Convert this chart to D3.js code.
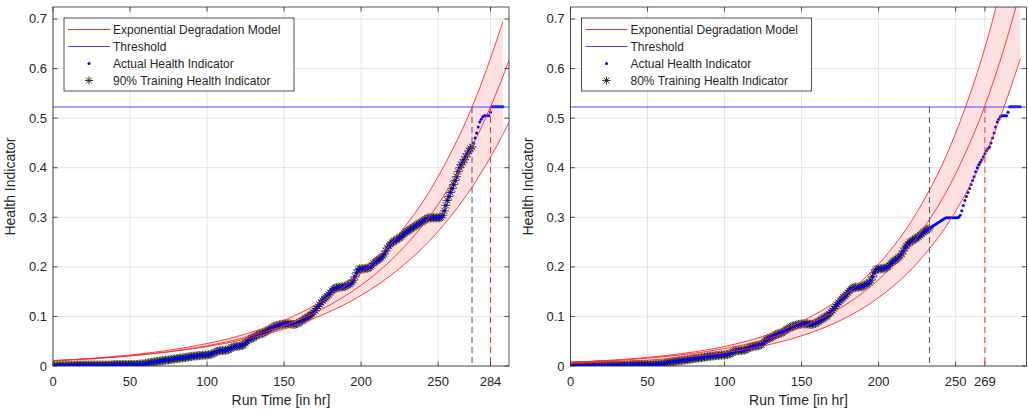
<!DOCTYPE html>
<html><head><meta charset="utf-8">
<script src="https://cdn.jsdelivr.net/npm/d3@7"></script>
<style>
body{margin:0;background:#fff}
svg{display:block}
text{font-family:"Liberation Sans",Arial,Helvetica,sans-serif;fill:#262626}
</style>
</head><body>
<svg id="c" width="1028" height="414"></svg>
<script>
// ---------------- data ----------------
const runTime = d3.range(0, 293); // one sample per hour
const healthIndicator = [
0.000,0.000,0.001,0.001,0.001,0.001,0.001,0.001,0.001,0.001,
0.001,0.001,0.001,0.001,0.001,0.002,0.002,0.002,0.002,0.002,
0.002,0.002,0.002,0.002,0.002,0.002,0.002,0.002,0.002,0.002,
0.002,0.002,0.002,0.002,0.002,0.002,0.002,0.002,0.002,0.003,
0.003,0.003,0.003,0.003,0.003,0.003,0.003,0.003,0.003,0.003,
0.003,0.003,0.003,0.003,0.003,0.003,0.004,0.004,0.004,0.004,
0.005,0.005,0.006,0.007,0.007,0.008,0.008,0.009,0.009,0.010,
0.010,0.011,0.011,0.012,0.012,0.012,0.013,0.013,0.014,0.014,
0.015,0.015,0.016,0.016,0.016,0.017,0.017,0.018,0.018,0.019,
0.019,0.020,0.020,0.020,0.021,0.021,0.021,0.022,0.022,0.022,
0.022,0.023,0.023,0.024,0.025,0.027,0.029,0.030,0.031,0.031,
0.031,0.031,0.032,0.032,0.033,0.035,0.037,0.038,0.039,0.040,
0.040,0.040,0.041,0.042,0.043,0.046,0.050,0.053,0.055,0.056,
0.057,0.059,0.061,0.063,0.064,0.065,0.066,0.067,0.069,0.071,
0.073,0.075,0.077,0.079,0.080,0.081,0.082,0.083,0.084,0.084,
0.085,0.085,0.085,0.085,0.085,0.084,0.084,0.084,0.085,0.086,
0.088,0.090,0.092,0.094,0.096,0.098,0.100,0.102,0.105,0.108,
0.112,0.116,0.120,0.124,0.128,0.132,0.135,0.138,0.141,0.144,
0.148,0.152,0.155,0.157,0.158,0.159,0.159,0.159,0.160,0.160,
0.161,0.163,0.165,0.166,0.169,0.173,0.180,0.188,0.194,0.196,
0.196,0.196,0.196,0.197,0.197,0.198,0.200,0.203,0.207,0.210,
0.212,0.214,0.216,0.219,0.222,0.226,0.232,0.238,0.242,0.246,
0.249,0.251,0.253,0.255,0.257,0.259,0.261,0.264,0.267,0.270,
0.272,0.274,0.276,0.278,0.280,0.282,0.284,0.286,0.288,0.290,
0.292,0.294,0.296,0.298,0.299,0.299,0.299,0.299,0.299,0.299,
0.299,0.299,0.300,0.304,0.313,0.324,0.334,0.342,0.350,0.358,
0.366,0.374,0.382,0.392,0.400,0.406,0.411,0.416,0.422,0.428,
0.434,0.439,0.442,0.450,0.460,0.470,0.482,0.492,0.498,0.503,
0.505,0.505,0.505,0.505,0.512,0.523,0.523,0.523,0.523,0.523,
0.523,0.523,0.523];
const threshold = 0.5225;

// exponential degradation model
const modelTime  = [0,25,50,75,100,125,150,175,200,225,250,275,292,296];
const meanLeft   = [0.0102,0.0144,0.0204,0.0288,0.0408,0.0577,0.0816,0.1154,0.1631,0.2306,0.3261,0.4612,0.5838,0.6170];
const upperLeft  = [0.0109,0.0156,0.0222,0.0317,0.0453,0.0646,0.0922,0.1315,0.1876,0.2678,0.3821,0.5451,0.6941,null];
const lowerLeft  = [0.0108,0.0149,0.0206,0.0284,0.0392,0.0542,0.0748,0.1032,0.1425,0.1968,0.2716,0.3750,0.4671,0.4917];
const meanRight  = [0.0071,0.0106,0.0158,0.0236,0.0352,0.0525,0.0783,0.1168,0.1742,0.2599,0.3877,0.5783,0.7590,0.8100];
const upperRight = [0.0076,0.0115,0.0173,0.0262,0.0395,0.0597,0.0902,0.1362,0.2058,0.3108,0.4696,0.7093,0.9390,1.0000];
const lowerRight = [0.0053,0.0079,0.0119,0.0179,0.0269,0.0405,0.0609,0.0916,0.1379,0.2074,0.3120,0.4696,0.6197,null];
const bandEnd = 292;

const trainEnd = [272, 233];
const rulTime  = [284, 269];
const xTicksLeft  = [0,50,100,150,200,250,284];
const xTicksRight = [0,50,100,150,200,250,269];
const yTicks = [0,0.1,0.2,0.3,0.4,0.5,0.6,0.7];
const trainLabels = ["90% Training Health Indicator","80% Training Health Indicator"];
const legendLabels = ["Exponential Degradation Model","Threshold","Actual Health Indicator"];

// ---------------- layout ----------------
const svg = d3.select("#c");
const panels = [
  {x0:53,  x1:509,  mean:meanLeft,  upper:upperLeft,  lower:lowerLeft,  xt:xTicksLeft,  k:0},
  {x0:570.5,x1:1026.5,mean:meanRight, upper:upperRight, lower:lowerRight, xt:xTicksRight, k:1}
];
const yTop = 7, yBot = 366;
const RED = "#ff2a2a", BLUE = "#0000ff", THR = "#4646ff", AX = "#262626";
const starPath = "M-4.5,0L4.5,0M0,-4.5L0,4.5M-3.2,-3.2L3.2,3.2M-3.2,3.2L3.2,-3.2";
const legStar = "M-4,0L4,0M0,-4L0,4M-2.8,-2.8L2.8,2.8M-2.8,2.8L2.8,-2.8";

panels.forEach(p => {
  const x = d3.scaleLinear().domain([0,296]).range([p.x0,p.x1]);
  const y = d3.scaleLinear().domain([0,0.7242]).range([yBot,yTop]);
  const g = svg.append("g");
  const cid = "clip"+p.k;
  g.append("clipPath").attr("id",cid).append("rect")
    .attr("x",p.x0).attr("y",yTop).attr("width",p.x1-p.x0).attr("height",yBot-yTop);

  // grid
  const grid = g.append("g").attr("stroke","#e3e3e3").attr("stroke-width",1);
  p.xt.forEach(t=>grid.append("line").attr("x1",x(t)).attr("x2",x(t)).attr("y1",yTop).attr("y2",yBot));
  yTicks.forEach(v=>grid.append("line").attr("x1",p.x0).attr("x2",p.x1).attr("y1",y(v)).attr("y2",y(v)));

  const plot = g.append("g").attr("clip-path",`url(#${cid})`);
  const model = modelTime.map((t,i)=>({t, m:p.mean[i], u:p.upper[i], l:p.lower[i]}));
  const bandPts = model.filter(d=>d.t<=bandEnd);

  plot.append("path").datum(bandPts)
    .attr("d", d3.area().x(d=>x(d.t)).y0(d=>y(d.l)).y1(d=>y(d.u)).curve(d3.curveMonotoneX))
    .attr("fill","#fde0e0");

  // training asterisks
  const pts = runTime.map((t,i)=>({t, v:healthIndicator[i]}));
  plot.append("g").selectAll("path").data(pts.filter(d=>d.t<=trainEnd[p.k])).join("path")
    .attr("transform",d=>`translate(${x(d.t)},${y(d.v)})`)
    .attr("d",starPath).attr("stroke","#111").attr("stroke-width",0.75).attr("fill","none");

  // actual dots
  plot.append("g").selectAll("circle").data(pts).join("circle")
    .attr("cx",d=>x(d.t)).attr("cy",d=>y(d.v)).attr("r",1.5).attr("fill",BLUE);

  // model lines
  ["m","u","l"].forEach(key=>{
    plot.append("path").datum(model)
      .attr("d", d3.line().defined(d=>d[key]!=null).x(d=>x(d.t)).y(d=>y(d[key])).curve(d3.curveMonotoneX))
      .attr("fill","none").attr("stroke",RED).attr("stroke-width",0.9);
  });

  // threshold
  plot.append("line").attr("x1",p.x0).attr("x2",p.x1).attr("y1",y(threshold)).attr("y2",y(threshold))
    .attr("stroke",THR).attr("stroke-width",1.2);

  // dashed markers
  plot.append("line").attr("x1",x(trainEnd[p.k])).attr("x2",x(trainEnd[p.k]))
    .attr("y1",y(threshold)).attr("y2",y(0))
    .attr("stroke","#555").attr("stroke-width",1).attr("stroke-dasharray","6,4");
  plot.append("line").attr("x1",x(rulTime[p.k])).attr("x2",x(rulTime[p.k]))
    .attr("y1",y(threshold)).attr("y2",y(0))
    .attr("stroke","#ff3030").attr("stroke-width",1).attr("stroke-dasharray","6,4");

  // axes box
  g.append("rect").attr("x",p.x0).attr("y",yTop).attr("width",p.x1-p.x0).attr("height",yBot-yTop)
    .attr("fill","none").attr("stroke",AX).attr("stroke-width",0.8);
  const tk = g.append("g").attr("stroke",AX).attr("stroke-width",0.8);
  p.xt.forEach(t=>{
    tk.append("line").attr("x1",x(t)).attr("x2",x(t)).attr("y1",yBot).attr("y2",yBot-4.5);
    tk.append("line").attr("x1",x(t)).attr("x2",x(t)).attr("y1",yTop).attr("y2",yTop+4.5);
  });
  yTicks.forEach(v=>{
    tk.append("line").attr("x1",p.x0).attr("x2",p.x0+4.5).attr("y1",y(v)).attr("y2",y(v));
    tk.append("line").attr("x1",p.x1).attr("x2",p.x1-4.5).attr("y1",y(v)).attr("y2",y(v));
  });
  g.append("g").selectAll("text").data(p.xt).join("text")
    .attr("x",d=>x(d)).attr("y",yBot+20).attr("text-anchor","middle").attr("font-size",13).text(d=>d);
  g.append("g").selectAll("text").data(yTicks).join("text")
    .attr("x",p.x0-6).attr("y",d=>y(d)+4.5).attr("text-anchor","end").attr("font-size",13).text(d=>d);

  g.append("text").attr("x",(p.x0+p.x1)/2).attr("y",405).attr("text-anchor","middle")
    .attr("font-size",14).text("Run Time [in hr]");
  g.append("text").attr("transform",`translate(${p.x0-38},${(yTop+yBot)/2}) rotate(-90)`)
    .attr("text-anchor","middle").attr("font-size",14).text("Health Indicator");

  // legend
  const lx = p.x0+11, ly = 18;
  const lg = g.append("g");
  lg.append("rect").attr("x",lx).attr("y",ly).attr("width",230).attr("height",73)
    .attr("fill","#fff").attr("stroke",AX).attr("stroke-width",0.8);
  const labels = legendLabels.concat([trainLabels[p.k]]);
  const rowY = [29.5,46.5,63.5,80.5];
  labels.forEach((lab,i)=>{
    const cy = rowY[i];
    if(i===0) lg.append("line").attr("x1",lx+4).attr("x2",lx+46).attr("y1",cy).attr("y2",cy).attr("stroke",RED).attr("stroke-width",1);
    if(i===1) lg.append("line").attr("x1",lx+4).attr("x2",lx+46).attr("y1",cy).attr("y2",cy).attr("stroke",THR).attr("stroke-width",1.2);
    if(i===2) lg.append("circle").attr("cx",lx+25).attr("cy",cy).attr("r",1.5).attr("fill",BLUE);
    if(i===3) lg.append("path").attr("transform",`translate(${lx+25},${cy})`).attr("d",legStar)
      .attr("stroke","#1a1a1a").attr("stroke-width",0.9).attr("fill","none");
    lg.append("text").attr("x",lx+49).attr("y",cy+4.3).attr("font-size",12).text(lab);
  });
});
</script>
</body></html>
